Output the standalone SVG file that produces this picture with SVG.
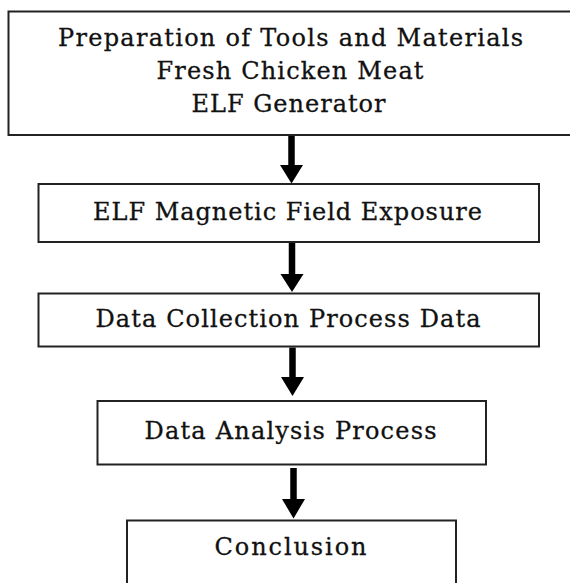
<svg xmlns="http://www.w3.org/2000/svg" width="570" height="583" viewBox="0 0 570 583">
  <style>
    .box { fill: #ffffff; stroke: #222222; stroke-width: 2; }
    .lbl { font-family: "DejaVu Serif", "Liberation Serif", serif; font-size: 24px; fill: #111111; stroke: #111111; stroke-width: 0.3; text-anchor: middle; }
    .shaft { stroke: #000000; stroke-width: 6.5; fill: none; }
    .head { fill: #000000; }
  </style>
  <rect x="0" y="0" width="570" height="583" fill="#ffffff"/>
  <g id="connectors">
    <g id="arrow1">
      <line class="shaft" x1="291.5" y1="136" x2="291.5" y2="166"/>
      <polygon class="head" points="280,165 303,165 291.5,183.5"/>
    </g>
    <g id="arrow2">
      <line class="shaft" x1="292" y1="243" x2="292" y2="275"/>
      <polygon class="head" points="280.5,274 303.5,274 292,292"/>
    </g>
    <g id="arrow3">
      <line class="shaft" x1="292.5" y1="347.5" x2="292.5" y2="378"/>
      <polygon class="head" points="281,377 304,377 292.5,396"/>
    </g>
    <g id="arrow4">
      <line class="shaft" x1="293.5" y1="468" x2="293.5" y2="500"/>
      <polygon class="head" points="282,499 305,499 293.5,518.5"/>
    </g>
  </g>
  <g id="node1">
    <rect class="box" x="8.5" y="11.5" width="580" height="123.5"/>
    <text class="lbl" x="290.5" y="45.5" textLength="465" lengthAdjust="spacing">Preparation of Tools and Materials</text>
    <text class="lbl" x="290" y="78.5" textLength="267" lengthAdjust="spacing">Fresh Chicken Meat</text>
    <text class="lbl" x="288.5" y="111.5" textLength="194" lengthAdjust="spacing">ELF Generator</text>
  </g>
  <g id="node2">
    <rect class="box" x="38.5" y="184" width="500.5" height="58"/>
    <text class="lbl" x="287.5" y="219.5" textLength="389" lengthAdjust="spacing">ELF Magnetic Field Exposure</text>
  </g>
  <g id="node3">
    <rect class="box" x="38.5" y="293.5" width="500.5" height="53"/>
    <text class="lbl" x="288" y="327" textLength="385" lengthAdjust="spacing">Data Collection Process Data</text>
  </g>
  <g id="node4">
    <rect class="box" x="97.5" y="401" width="388.5" height="63.5"/>
    <text class="lbl" x="290.5" y="438.5" textLength="292" lengthAdjust="spacing">Data Analysis Process</text>
  </g>
  <g id="node5">
    <rect class="box" x="127" y="520.5" width="329" height="80"/>
    <text class="lbl" x="290.5" y="555" textLength="152" lengthAdjust="spacing">Conclusion</text>
  </g>
</svg>
